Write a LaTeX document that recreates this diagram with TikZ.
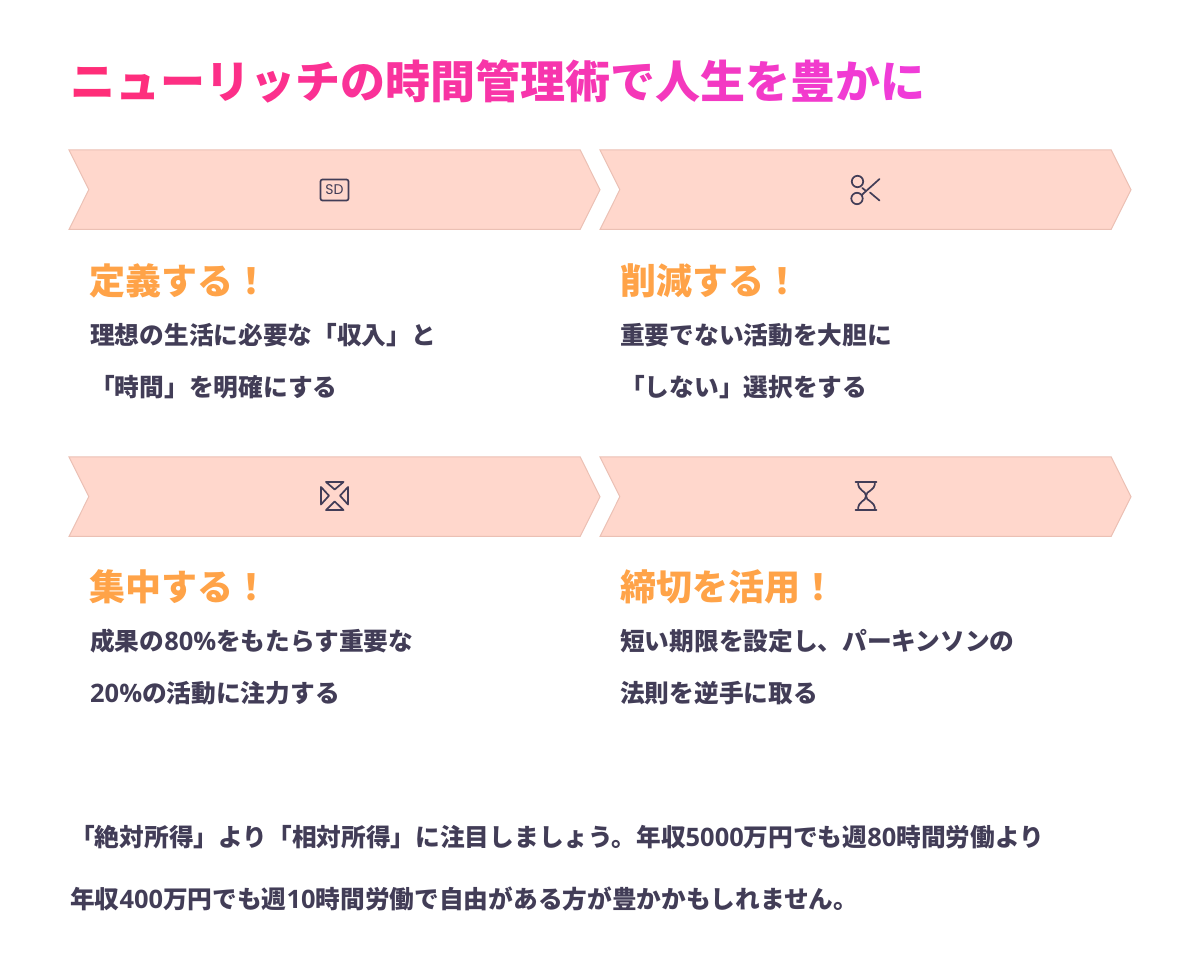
\documentclass[tikz,border=0pt]{standalone}
\usepackage{fontspec}
\setmainfont{Noto Sans CJK JP}
\newfontfamily\latinfont[Scale=1.03]{Open Sans}
\newfontfamily\badgefont{Poppins}
\usetikzlibrary{shapes.symbols}
\definecolor{barfill}{HTML}{FFD7CC}
\definecolor{barline}{HTML}{EBC0B4}
\definecolor{inkdark}{HTML}{423D57}
\definecolor{headorange}{HTML}{FFA348}
\definecolor{titlestart}{HTML}{FF2D78}
\definecolor{titleend}{HTML}{F03CD8}
\newcommand{\num}[1]{{\latinfont #1}}
\begin{document}
\begin{tikzpicture}
  [x=1pt,y=-1pt,
    chevron/.style={signal,signal from=west,signal to=east,signal pointer angle=127,
      draw=barline,fill=barfill,line width=1pt,inner sep=0pt,outer sep=0pt,
      minimum width=531pt,minimum height=79.5pt},
    heading/.style={anchor=base west,inner sep=0pt,font=\fontsize{36}{36}\selectfont\bfseries,text=headorange},
    bodytext/.style={anchor=base west,inner sep=0pt,font=\fontsize{24.7}{25}\selectfont\bfseries,text=inkdark},
    icon/.style={draw=inkdark,line width=1.7pt,line join=round,line cap=round},
]
  \useasboundingbox (0,0) rectangle (1200,973);
  % title
  \node [anchor=base west,inner sep=0pt,font=\fontsize{45}{45}\selectfont\bfseries] (title) at (70,99)
  {\foreach \ch [count=\i,evaluate=\i as \p using {(\i-1)*100/18}] in
    {ニ,ュ,ー,リ,ッ,チ,の,時,間,管,理,術,で,人,生,を,豊,か,に}{\textcolor{titleend!\p!titlestart}{\ch}}};

  % bars
  \node [chevron] (define) at (334.5,189.7) {};
  \node [chevron] (reduce) at (865.5,189.7) {};
  \node [chevron] (focus) at (334.5,496.7) {};
  \node [chevron] (deadline) at (865.5,496.7) {};

  % icons
  \node [icon,rounded corners=2pt,minimum width=28pt,minimum height=21pt,inner sep=0pt,
    font=\fontsize{14}{14}\selectfont\badgefont,text=inkdark] (sdicon) at (334.5,190) {SD};
  \draw [icon] (857.5,181.5) circle (5.7) (857,198.5) circle (5.7)
    (861.7,195) -- (879.5,179) (862.3,188) -- (866,191) (870,192.5) -- (879.5,200.5);
  \draw [icon] (326,482) -- (343.5,482) -- (334.7,489.5) -- cycle
    (326,510) -- (343.5,510) -- (334.7,501.5) -- cycle
    (321,487) -- (321,504.5) -- (329,495.7) -- cycle
    (348,487) -- (348,504.5) -- (340,495.7) -- cycle;
  \draw [icon] (855.5,482) -- (876.5,482) (855.5,510) -- (876.5,510)
    (858,482) .. controls (858,492) and (866,490) .. (866,496) .. controls (866,502) and (875,500) .. (875,510)
    (875,482) .. controls (875,492) and (866,490) .. (866,496) .. controls (866,502) and (858,500) .. (858,510);

  % define
  \node [heading] (definehead) at (89,295) {定義する！};
  \node [bodytext] (defineone) at (90,345) {理想の生活に必要な「収入」と};
  \node [bodytext] (definetwo) at (90,397) {「時間」を明確にする};
  % reduce
  \node [heading] (reducehead) at (620,295) {削減する！};
  \node [bodytext] (reduceone) at (620,345) {重要でない活動を大胆に};
  \node [bodytext] (reducetwo) at (620,397) {「しない」選択をする};
  % focus
  \node [heading] (focushead) at (89,600) {集中する！};
  \node [bodytext] (focusone) at (90,650) {成果の\num{80\%}をもたらす重要な};
  \node [bodytext] (focustwo) at (90,702) {\num{20\%}の活動に注力する};
  % deadline
  \node [heading] (deadlinehead) at (620,600) {締切を活用！};
  \node [bodytext] (deadlineone) at (620,650) {短い期限を設定し、パーキンソンの};
  \node [bodytext] (deadlinetwo) at (620,702) {法則を逆手に取る};

  % closing lines
  \node [bodytext] (closeone) at (70,846) {「絶対所得」より「相対所得」に注目しましょう。年収\num{5000}万円でも週\num{80}時間労働より};
  \node [bodytext] (closetwo) at (70,908) {年収\num{400}万円でも週\num{10}時間労働で自由がある方が豊かかもしれません。};
\end{tikzpicture}
\end{document}
